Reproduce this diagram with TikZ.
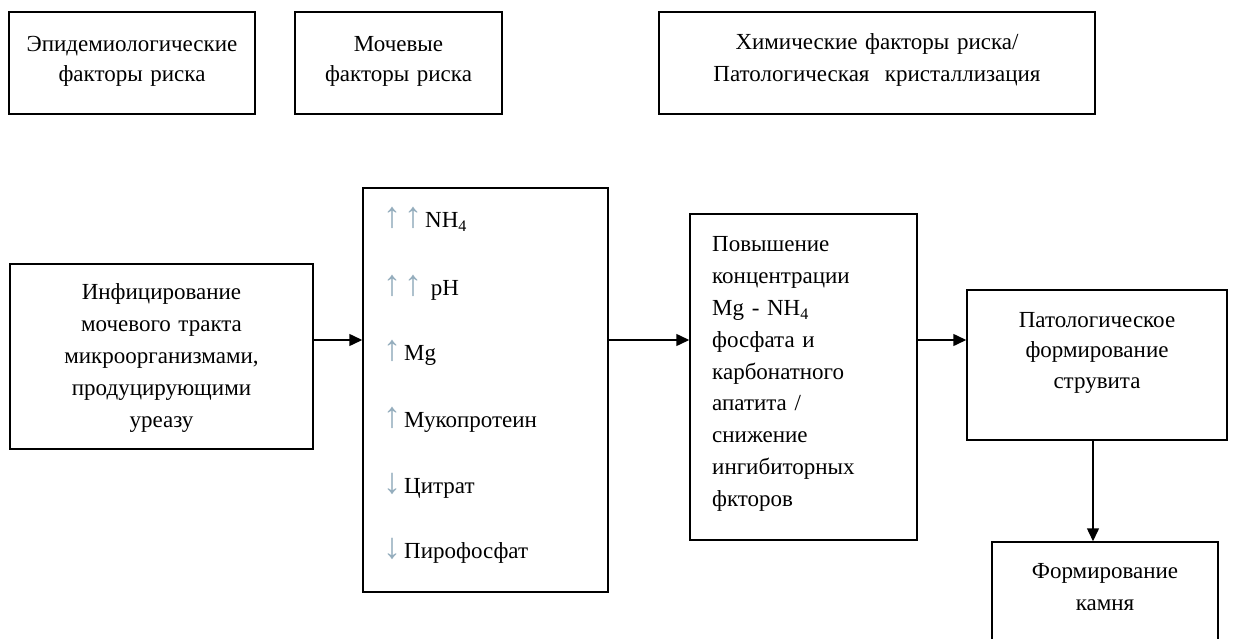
\documentclass[tikz,border=0pt]{standalone}
\usepackage{fontspec}
\setmainfont{Liberation Serif}
\usetikzlibrary{arrows.meta}
\definecolor{arrcol}{rgb}{0.58,0.68,0.74}
\newcommand{\upar}{\textcolor{arrcol}{\fontsize{36}{36}\selectfont ↑}\kern3pt}
\newcommand{\dnar}{\textcolor{arrcol}{\fontsize{36}{36}\selectfont ↓}\kern3pt}
\tikzset{
  box/.style={draw=black, line width=1.5pt, rectangle, inner sep=0pt},
  txt/.style={inner sep=0pt, anchor=base, font=\fontsize{23}{31}\selectfont},
  ctxt/.style={txt, align=center, text width=#1},
  ltxt/.style={txt, align=left, text width=#1, anchor=base west},
  item/.style={inner sep=0pt, anchor=base west, font=\fontsize{23}{31}\selectfont},
  conn/.style={line width=1.5pt, -{Triangle[length=13pt,width=12pt]}},
}
\begin{document}
\begin{tikzpicture}[x=1pt,y=-1pt]
\clip (0,0) rectangle (1235,639);
\fill[white] (0,0) rectangle (1235,639);
% top row
\node[box, minimum width=246pt, minimum height=102pt] (e1) at (132,63) {};
\node[box, minimum width=207pt, minimum height=102pt] (e2) at (398.5,63) {};
\node[box, minimum width=436pt, minimum height=102pt] (e3) at (877,63) {};
\node[ctxt=240pt, font=\fontsize{23}{30}\selectfont] (t1) at (132,52) {Эпидемиологические\\факторы риска};
\node[ctxt=200pt, font=\fontsize{23}{30}\selectfont] (t2) at (398.5,52) {Мочевые\\факторы риска};
\node[ctxt=430pt, font=\fontsize{23}{32}\selectfont] (t3) at (877,50) {Химические факторы риска/\\Патологическая\ \ кристаллизация};
% main row
\node[box, minimum width=303pt, minimum height=185pt] (inf) at (161.5,356.5) {};
\node[ctxt=300pt, font=\fontsize{23}{32}\selectfont] (tinf) at (161.5,300) {Инфицирование\\мочевого тракта\\микроорганизмами,\\продуцирующими\\уреазу};
\node[box, minimum width=245pt, minimum height=404pt] (uri) at (485.5,390) {};
\node[item] (i1) at (383,228) {\upar\upar NH\textsubscript{4}};
\node[item] (i2) at (383,295) {\upar\upar\ pH};
\node[item] (i3) at (383,360) {\upar Mg};
\node[item] (i4) at (383,427) {\upar Мукопротеин};
\node[item] (i5) at (383,493) {\dnar Цитрат};
\node[item] (i6) at (383,558) {\dnar Пирофосфат};
\node[box, minimum width=227pt, minimum height=326pt] (conc) at (803.5,377) {};
\node[ltxt=200pt, font=\fontsize{23}{31.8}\selectfont] (tconc) at (712,252) {Повышение\\концентрации\\Mg - NH\textsubscript{4}\\фосфата и\\карбонатного\\апатита /\\снижение\\ингибиторных\\фкторов};
\node[box, minimum width=260pt, minimum height=150pt] (pat) at (1097,365) {};
\node[ctxt=255pt, font=\fontsize{23}{30.5}\selectfont] (tpat) at (1097,327) {Патологическое\\формирование\\струвита};
\node[box, minimum width=226pt, minimum height=160pt] (stone) at (1105,622) {};
\node[ctxt=220pt, font=\fontsize{23}{32}\selectfont] (tstone) at (1105,578) {Формирование\\камня};
% connectors
\coordinate (row) at (0,340);
\coordinate (col) at (1093,0);
\draw[conn] (inf.east |- row) -- (uri.west |- row);
\draw[conn] (uri.east |- row) -- (conc.west |- row);
\draw[conn] (conc.east |- row) -- (pat.west |- row);
\draw[conn] (pat.south -| col) -- (stone.north -| col);
\end{tikzpicture}
\end{document}
